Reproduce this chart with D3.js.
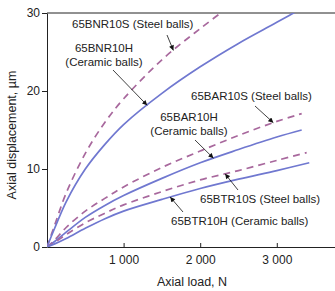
<!DOCTYPE html>
<html>
<head>
<meta charset="utf-8">
<script src="https://cdn.jsdelivr.net/npm/d3@7"></script>
<style>
  html, body { margin: 0; padding: 0; background: #fff; }
  svg { display: block; font-family: "Liberation Sans", Arial, Helvetica, sans-serif; }
  .axis text { font-size: 12px; fill: #222; }
  .axis path, .axis line { stroke: #222; stroke-width: 1; }
  .note { font-size: 11.5px; fill: #222; }
</style>
</head>
<body>
<div id="chart"></div>
<script>
// axial load, N (shared sample points)
var loads = [0, 100, 250, 500, 750, 1000, 1500, 2000, 2500, 3000];

// axial displacement, um
var bnr10s = [0, 2.8, 6.9, 12.0, 15.9, 19.0, 24.0, 28.0, 31.7];
var bnr10h = [0, 2.4, 5.8, 10.0, 13.1, 15.7, 19.7, 23.1, 26.1, 28.8];
var bar10s = [0, 0.9, 2.5, 4.6, 6.2, 7.7, 10.2, 12.3, 14.3, 16.1];
var bar10h = [0, 0.7, 1.9, 3.8, 5.3, 6.6, 8.8, 10.8, 12.5, 14.1];
var btr10s = [0, 0.6, 1.6, 3.1, 4.3, 5.4, 7.1, 8.6, 9.8, 11.1];
var btr10h = [0, 0.4, 1.1, 2.4, 3.6, 4.6, 6.1, 7.5, 8.7, 9.8];

// last point of each curve [load, displacement]
var endPoints = [null, [3400, 31.0], [3325, 17.1], [3325, 15.0], [3390, 12.1], [3424, 10.8]];

var seriesNames = ["65BNR10S", "65BNR10H", "65BAR10S", "65BAR10H", "65BTR10S", "65BTR10H"];
var seriesValues = [bnr10s, bnr10h, bar10s, bar10h, btr10s, btr10h];
var steelBalls = [true, false, true, false, true, false];

// where each label arrow touches its curve (load, N)
var arrowLoads = [1650, 1308, 2955, 2173, 2325, 1608];

var yTicks = [0, 10, 20, 30];
var xTicks = [1000, 2000, 3000];

var width = 335, height = 291;
var margin = {top: 13, right: 0, bottom: 44, left: 47};

var svg = d3.select("#chart").append("svg")
    .attr("width", width)
    .attr("height", height);

var x = d3.scaleLinear().domain([0, 3760]).range([margin.left, width - margin.right]);
var y = d3.scaleLinear().domain([0, 30]).range([height - margin.bottom, margin.top]);

var fmt = d3.formatLocale({decimal: ".", thousands: " ", grouping: [3], currency: ["", ""]}).format(",");

svg.append("defs").append("clipPath").attr("id", "plotClip")
  .append("rect")
    .attr("x", x.range()[0]).attr("y", y.range()[1])
    .attr("width", x.range()[1] - x.range()[0])
    .attr("height", y.range()[0] - y.range()[1]);

svg.select("defs").append("marker")
    .attr("id", "arrowHead")
    .attr("markerUnits", "userSpaceOnUse")
    .attr("viewBox", "0 0 10 10")
    .attr("refX", 10).attr("refY", 5)
    .attr("markerWidth", 6).attr("markerHeight", 5)
    .attr("orient", "auto")
  .append("path")
    .attr("d", "M0,0L10,5L0,10Z")
    .attr("fill", "#111");

// series points
var series = seriesNames.map(function (name, i) {
    var pts = [];
    seriesValues[i].forEach(function (v, j) { pts.push([loads[j], v]); });
    if (endPoints[i]) pts.push(endPoints[i]);
    return {name: name, steel: steelBalls[i], points: pts};
});

var line = d3.line()
    .x(function (d) { return x(d[0]); })
    .y(function (d) { return y(d[1]); })
    .curve(d3.curveCatmullRom.alpha(0.5));

// top border
svg.append("line")
    .attr("x1", x.range()[0]).attr("x2", x.range()[1])
    .attr("y1", y(30)).attr("y2", y(30))
    .attr("stroke", "#222").attr("stroke-width", 1);

svg.append("g")
    .attr("class", "axis")
    .attr("transform", "translate(" + margin.left + ",0)")
    .call(d3.axisLeft(y).tickValues(yTicks).tickSizeInner(5).tickSizeOuter(0).tickPadding(2));

svg.append("g")
    .attr("class", "axis")
    .attr("transform", "translate(0," + y(0) + ")")
    .call(d3.axisBottom(x).tickValues(xTicks).tickFormat(fmt).tickSizeInner(-4).tickSizeOuter(0).tickPadding(8));

svg.append("g")
    .attr("clip-path", "url(#plotClip)")
  .selectAll("path")
    .data(series)
  .enter().append("path")
    .attr("d", function (d) { return line(d.points); })
    .attr("fill", "none")
    .attr("stroke", function (d) { return d.steel ? "#a8689d" : "#7078d0"; })
    .attr("stroke-width", 1.7)
    .attr("stroke-dasharray", function (d) { return d.steel ? "7,5" : null; });

// axis titles
svg.append("text")
    .attr("x", 192).attr("y", 285.5)
    .attr("text-anchor", "middle")
    .style("font-size", "12.5px").style("fill", "#222")
    .text("Axial load, N");

svg.append("text")
    .attr("transform", "translate(16,135) rotate(-90)")
    .attr("text-anchor", "middle")
    .style("font-size", "12.5px").style("fill", "#222")
    .text("Axial displacement, \u00b5m");

// labels: lines of text, anchor, arrow tail
var notes = [
    {lines: ["65BNR10S (Steel balls)"], x: 72, y: 28, anchor: "start", tail: [167, 35]},
    {lines: ["65BNR10H", "(Ceramic balls)"], x: 104, y: 51.5, anchor: "middle", tail: [113, 70]},
    {lines: ["65BAR10S (Steel balls)"], x: 191, y: 100, anchor: "start", tail: [255, 106]},
    {lines: ["65BAR10H", "(Ceramic balls)"], x: 189, y: 120.5, anchor: "middle", tail: [195, 140]},
    {lines: ["65BTR10S (Steel balls)"], x: 200, y: 203, anchor: "start", tail: [238, 190]},
    {lines: ["65BTR10H (Ceramic balls)"], x: 171, y: 225, anchor: "start", tail: [183, 212]}
];

function valueAt(pts, load) {
    for (var k = 1; k < pts.length; k++) {
        if (load <= pts[k][0]) {
            var t = (load - pts[k - 1][0]) / (pts[k][0] - pts[k - 1][0]);
            return pts[k - 1][1] + t * (pts[k][1] - pts[k - 1][1]);
        }
    }
    return pts[pts.length - 1][1];
}

notes.forEach(function (n, i) {
    var t = svg.append("text")
        .attr("class", "note")
        .attr("text-anchor", n.anchor);
    n.lines.forEach(function (s, j) {
        t.append("tspan")
            .attr("x", n.x)
            .attr("y", n.y + j * 14)
            .text(s);
    });
    var load = arrowLoads[i];
    svg.append("line")
        .attr("x1", n.tail[0]).attr("y1", n.tail[1])
        .attr("x2", x(load)).attr("y2", y(valueAt(series[i].points, load)))
        .attr("stroke", "#111").attr("stroke-width", 0.8)
        .attr("marker-end", "url(#arrowHead)");
});
</script>
</body>
</html>
